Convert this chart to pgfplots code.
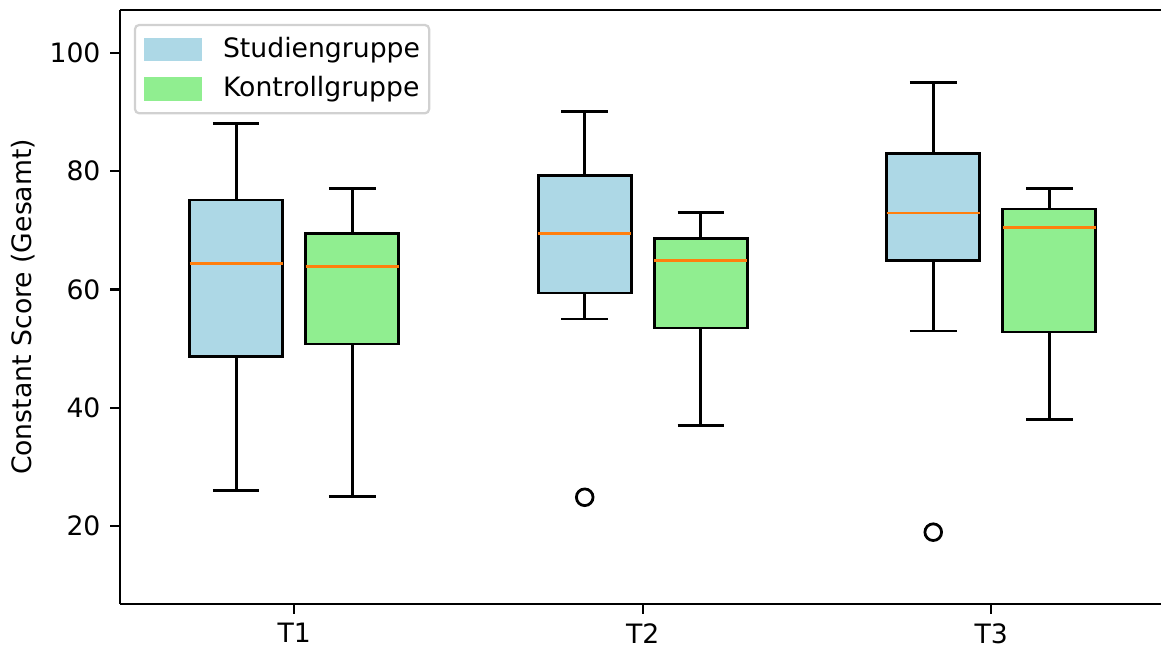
\documentclass[border=0pt]{standalone}
\usepackage{pgfplots}
\pgfplotsset{compat=1.18}
\usepackage{fontspec}
\setmainfont{DejaVu Sans}
\definecolor{lblue}{RGB}{173,216,230}
\definecolor{lgreen}{RGB}{144,238,144}
\definecolor{mpor}{RGB}{255,127,14}
\newcommand{\fs}{\fontsize{9.6}{11.5}\selectfont}
\begin{document}
\begin{tikzpicture}
\begin{axis}[
  name=ax,
  scale only axis,
  width=374.8pt, height=213.8pt,
  xmin=0.5, xmax=3.487,
  ymin=6.9, ymax=107.2,
  axis x line*=box, axis y line*=left,
  axis line style={-, line width=0.8pt, black},
  xtick pos=left, ytick pos=left,
  xtick={1,2,3}, xticklabels={T1,T2,T3},
  ytick={20,40,60,80,100},
  tick align=outside,
  major tick length=3.5pt,
  tick style={line width=0.8pt, black},
  /pgf/number format/assume math mode=true,
  tick label style={font=\fs},
  label style={font=\fs},
  ylabel={Constant Score (Gesamt)},
  ylabel shift=-1.8pt,
  wline/.style={black, line width=1pt, mark=none, forget plot},
  boxS/.style={draw=black, fill=lblue, line width=1pt, mark=none, forget plot},
  boxK/.style={draw=black, fill=lgreen, line width=1pt, mark=none, forget plot},
  med/.style={mpor, line width=1pt, mark=none, forget plot},
  legend style={at={(0,1)}, anchor=north west, xshift=5pt, yshift=-5pt,
    draw=black!18, line width=0.8pt, rounded corners=1.5pt,
    font=\fs, cells={anchor=west},
    nodes={inner sep=0pt},
    inner xsep=3.3pt, inner ysep=4.4pt, row sep=5.4pt,
    /tikz/every odd column/.append style={column sep=7.6pt}},
]
\addlegendimage{legend image code/.code={\fill[lblue, sharp corners] (0pt,-3.85pt) rectangle (20pt,3.85pt);}}
\addlegendentry{Studiengruppe}
\addlegendimage{legend image code/.code={\fill[lgreen, sharp corners] (0pt,-3.85pt) rectangle (20pt,3.85pt);}}
\addlegendentry{Kontrollgruppe}

% ---- T1 Studiengruppe: 26, 48.7, 64.4, 75.1, 88
\addplot[wline] coordinates {(0.8335,26) (0.8335,48.7)};
\addplot[wline] coordinates {(0.8335,75.1) (0.8335,88)};
\addplot[wline] coordinates {(0.7667,26) (0.9003,26)};
\addplot[wline] coordinates {(0.7667,88) (0.9003,88)};
\addplot[boxS] coordinates {(0.7,48.7) (0.967,48.7) (0.967,75.1) (0.7,75.1)} -- cycle;
\addplot[med] coordinates {(0.7,64.4) (0.967,64.4)};
% ---- T1 Kontrollgruppe: 25, 50.8, 63.9, 69.5, 77
\addplot[wline] coordinates {(1.1665,25) (1.1665,50.8)};
\addplot[wline] coordinates {(1.1665,69.5) (1.1665,77)};
\addplot[wline] coordinates {(1.0997,25) (1.2333,25)};
\addplot[wline] coordinates {(1.0997,77) (1.2333,77)};
\addplot[boxK] coordinates {(1.033,50.8) (1.3,50.8) (1.3,69.5) (1.033,69.5)} -- cycle;
\addplot[med] coordinates {(1.033,63.9) (1.3,63.9)};
% ---- T2 Studiengruppe: 55, 59.4, 69.4, 79.2, 90
\addplot[wline] coordinates {(1.8335,55) (1.8335,59.4)};
\addplot[wline] coordinates {(1.8335,79.2) (1.8335,90)};
\addplot[wline] coordinates {(1.7667,55) (1.9003,55)};
\addplot[wline] coordinates {(1.7667,90) (1.9003,90)};
\addplot[boxS] coordinates {(1.7,59.4) (1.967,59.4) (1.967,79.2) (1.7,79.2)} -- cycle;
\addplot[med] coordinates {(1.7,69.4) (1.967,69.4)};
% ---- T2 Kontrollgruppe: 37, 53.5, 64.9, 68.6, 73
\addplot[wline] coordinates {(2.1665,37) (2.1665,53.5)};
\addplot[wline] coordinates {(2.1665,68.6) (2.1665,73)};
\addplot[wline] coordinates {(2.0997,37) (2.2333,37)};
\addplot[wline] coordinates {(2.0997,73) (2.2333,73)};
\addplot[boxK] coordinates {(2.033,53.5) (2.3,53.5) (2.3,68.6) (2.033,68.6)} -- cycle;
\addplot[med] coordinates {(2.033,64.9) (2.3,64.9)};
% ---- T3 Studiengruppe: 53, 64.9, 72.9, 82.9, 95
\addplot[wline] coordinates {(2.8335,53) (2.8335,64.9)};
\addplot[wline] coordinates {(2.8335,82.9) (2.8335,95)};
\addplot[wline] coordinates {(2.7667,53) (2.9003,53)};
\addplot[wline] coordinates {(2.7667,95) (2.9003,95)};
\addplot[boxS] coordinates {(2.7,64.9) (2.967,64.9) (2.967,82.9) (2.7,82.9)} -- cycle;
\addplot[med] coordinates {(2.7,72.9) (2.967,72.9)};
% ---- T3 Kontrollgruppe: 38, 52.8, 70.4, 73.6, 77
\addplot[wline] coordinates {(3.1665,38) (3.1665,52.8)};
\addplot[wline] coordinates {(3.1665,73.6) (3.1665,77)};
\addplot[wline] coordinates {(3.0997,38) (3.2333,38)};
\addplot[wline] coordinates {(3.0997,77) (3.2333,77)};
\addplot[boxK] coordinates {(3.033,52.8) (3.3,52.8) (3.3,73.6) (3.033,73.6)} -- cycle;
\addplot[med] coordinates {(3.033,70.4) (3.3,70.4)};
% ---- outliers
\addplot[forget plot, only marks, mark=o, mark size=3pt, mark options={black, line width=1pt}] coordinates {(1.8335,24.9) (2.8335,19)};

\path (rel axis cs:0,0) coordinate (A);
\path (rel axis cs:1,1) coordinate (B);
\end{axis}
\pgfresetboundingbox
\path ([shift={(-43.2pt,-15.5pt)}]A) rectangle ([yshift=3.6pt]B);
\end{tikzpicture}
\end{document}
